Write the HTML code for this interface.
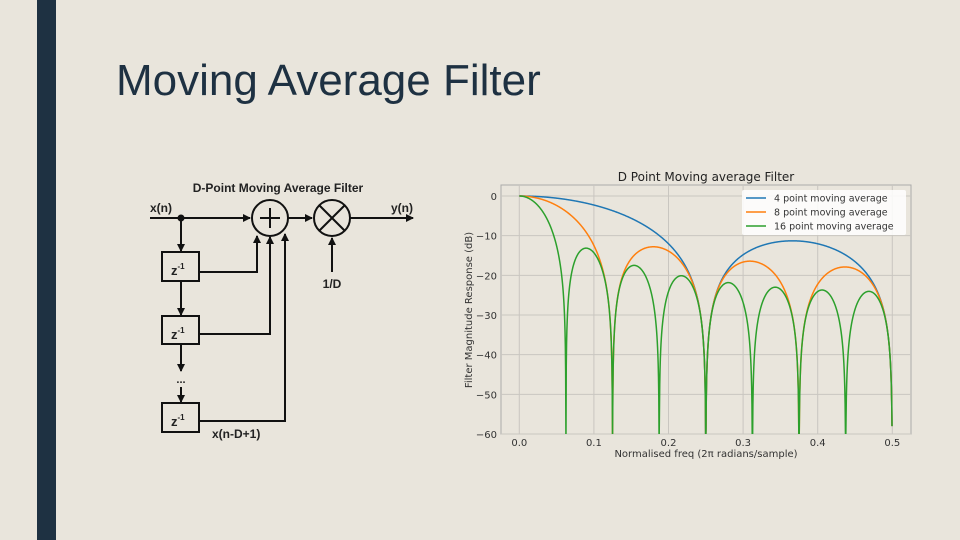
<!DOCTYPE html>
<html><head><meta charset="utf-8"><style>
body{margin:0;width:960px;height:540px;background:#e9e5dc;position:relative;overflow:hidden;font-family:"Liberation Sans",sans-serif}
#bar{position:absolute;left:37px;top:0;width:19px;height:540px;background:#1e3142}
#title{position:absolute;left:116px;top:56px;font-size:44px;color:#1e3142}
svg{position:absolute;left:0;top:0}
</style></head><body>
<div id="bar"></div>
<div id="title">Moving Average Filter</div>
<svg width="960" height="540" font-family="Liberation Sans, sans-serif">
<defs><marker id="ar" markerWidth="8" markerHeight="8" refX="7" refY="4" orient="auto" markerUnits="userSpaceOnUse"><path d="M0,0L8,4L0,8z" fill="#111"/></marker></defs>
<g stroke="#111" stroke-width="2" fill="none">
<text x="278" y="192" font-size="12" font-weight="bold" fill="#222" stroke="none" text-anchor="middle">D-Point Moving Average Filter</text>
<text x="150" y="212" font-size="12" font-weight="bold" fill="#222" stroke="none">x(n)</text>
<text x="391" y="212" font-size="12" font-weight="bold" fill="#222" stroke="none">y(n)</text>
<line x1="150" y1="218" x2="250" y2="218" marker-end="url(#ar)"/>
<circle cx="181" cy="218" r="2.5" fill="#111"/>
<circle cx="270" cy="218" r="18"/>
<line x1="260" y1="218" x2="280" y2="218"/><line x1="270" y1="208" x2="270" y2="228"/>
<line x1="288" y1="218" x2="312" y2="218" marker-end="url(#ar)"/>
<circle cx="332" cy="218" r="18"/>
<line x1="319" y1="205" x2="345" y2="231"/><line x1="345" y1="205" x2="319" y2="231"/>
<line x1="350" y1="218" x2="413" y2="218" marker-end="url(#ar)"/>
<line x1="332" y1="272" x2="332" y2="238" marker-end="url(#ar)"/>
<text x="332" y="288" font-size="12" font-weight="bold" fill="#222" stroke="none" text-anchor="middle">1/D</text>
<line x1="181" y1="218" x2="181" y2="251" marker-end="url(#ar)"/>
<rect x="162" y="252" width="37" height="29"/>
<line x1="181" y1="281" x2="181" y2="315" marker-end="url(#ar)"/>
<rect x="162" y="316" width="37" height="28"/>
<line x1="181" y1="344" x2="181" y2="371" marker-end="url(#ar)"/>
<line x1="181" y1="387" x2="181" y2="402" marker-end="url(#ar)"/>
<text x="181" y="383" font-size="11" font-weight="bold" fill="#222" stroke="none" text-anchor="middle">...</text>
<rect x="162" y="403" width="37" height="29"/>
<polyline points="199,272 257,272 257,236" marker-end="url(#ar)"/>
<polyline points="199,334 270,334 270,237" marker-end="url(#ar)"/>
<polyline points="199,421 285,421 285,234" marker-end="url(#ar)"/>
<g fill="#222" stroke="none" font-size="13" font-weight="bold">
<text x="171" y="275">z<tspan font-size="8" dy="-6">-1</tspan></text>
<text x="171" y="339">z<tspan font-size="8" dy="-6">-1</tspan></text>
<text x="171" y="426">z<tspan font-size="8" dy="-6">-1</tspan></text>
</g>
<text x="212" y="438" font-size="12" font-weight="bold" fill="#222" stroke="none">x(n-D+1)</text>
</g>
</svg>
<svg id="chart" width="960" height="540" font-family="DejaVu Sans, sans-serif"></svg>
<script>
const filterLengths=[4,8,16];
const seriesLabels=['4 point moving average','8 point moving average','16 point moving average'];
const xTicks=[0,0.1,0.2,0.3,0.4,0.5];
const yTicks=[0,-10,-20,-30,-40,-50,-60];
const colors=['#1f77b4','#ff7f0e','#2ca02c'];
const svg=document.getElementById('chart');const NS='http://www.w3.org/2000/svg';
const L=501,R=911,T=185,B=434;
const X=v=>519.3+v*(892.3-519.3)/0.5;
const Y=v=>196+(-v)*(434-196)/60;
function mk(t,a,p){const e=document.createElementNS(NS,t);for(const k in a)e.setAttribute(k,a[k]);(p||svg).appendChild(e);return e;}
const bg=mk('rect',{x:L,y:T,width:R-L,height:B-T,fill:'#e9e5dc',stroke:'#aaa','stroke-width':1});


xTicks.forEach(v=>{mk('line',{x1:X(v),x2:X(v),y1:T,y2:B,stroke:'#c9c6c0','stroke-width':1});
const t=mk('text',{x:X(v),y:B+12,'font-size':10,'text-anchor':'middle',fill:'#333'});t.textContent=v.toFixed(1);

});
yTicks.forEach(v=>{mk('line',{x1:L,x2:R,y1:Y(v),y2:Y(v),stroke:'#c9c6c0','stroke-width':1});
const t=mk('text',{x:L-4,y:Y(v)+4,'font-size':10,'text-anchor':'end',fill:'#333'});t.textContent=v<0?'\u2212'+(-v):String(v);

});
const cp=mk('clipPath',{id:'cp'});mk('rect',{x:L,y:T,width:R-L,height:B-T},cp);
filterLengths.forEach((D,i)=>{let d='';const N=1200;
for(let j=0;j<=N;j++){const f=j*0.4995/N+0.0001;let h=Math.abs(Math.sin(Math.PI*f*D)/(D*Math.sin(Math.PI*f)));let db=20*Math.log10(Math.max(h,1e-6));if(db<-62)db=-62;d+=(j?'L':'M')+X(f).toFixed(2)+','+Y(db).toFixed(2);}
const p=mk('path',{d:d,fill:'none',stroke:colors[i],'stroke-width':1.5,'clip-path':'url(#cp)'});

});
const tt=mk('text',{x:706,y:181,'font-size':12,'text-anchor':'middle',fill:'#222'});tt.textContent='D Point Moving average Filter';


const xt=mk('text',{x:706,y:457,'font-size':10,'text-anchor':'middle',fill:'#333'});xt.textContent='Normalised freq (2\u03c0 radians/sample)';


const yt=mk('text',{x:472,y:310,'font-size':10,'text-anchor':'middle',fill:'#333',transform:'rotate(-90 472 310)'});yt.textContent='Filter Magnitude Response (dB)';


const lg=mk('g',{});


mk('rect',{x:742,y:190,width:164,height:45,fill:'#fff',opacity:0.85,rx:2},lg);
seriesLabels.forEach((s,i)=>{const y=198+i*14;mk('line',{x1:746,x2:766,y1:y,y2:y,stroke:colors[i],'stroke-width':1.5},lg);
const t=mk('text',{x:774,y:y+3.5,'font-size':9.5,fill:'#333'},lg);t.textContent=s;

});
</script>
</body></html>
